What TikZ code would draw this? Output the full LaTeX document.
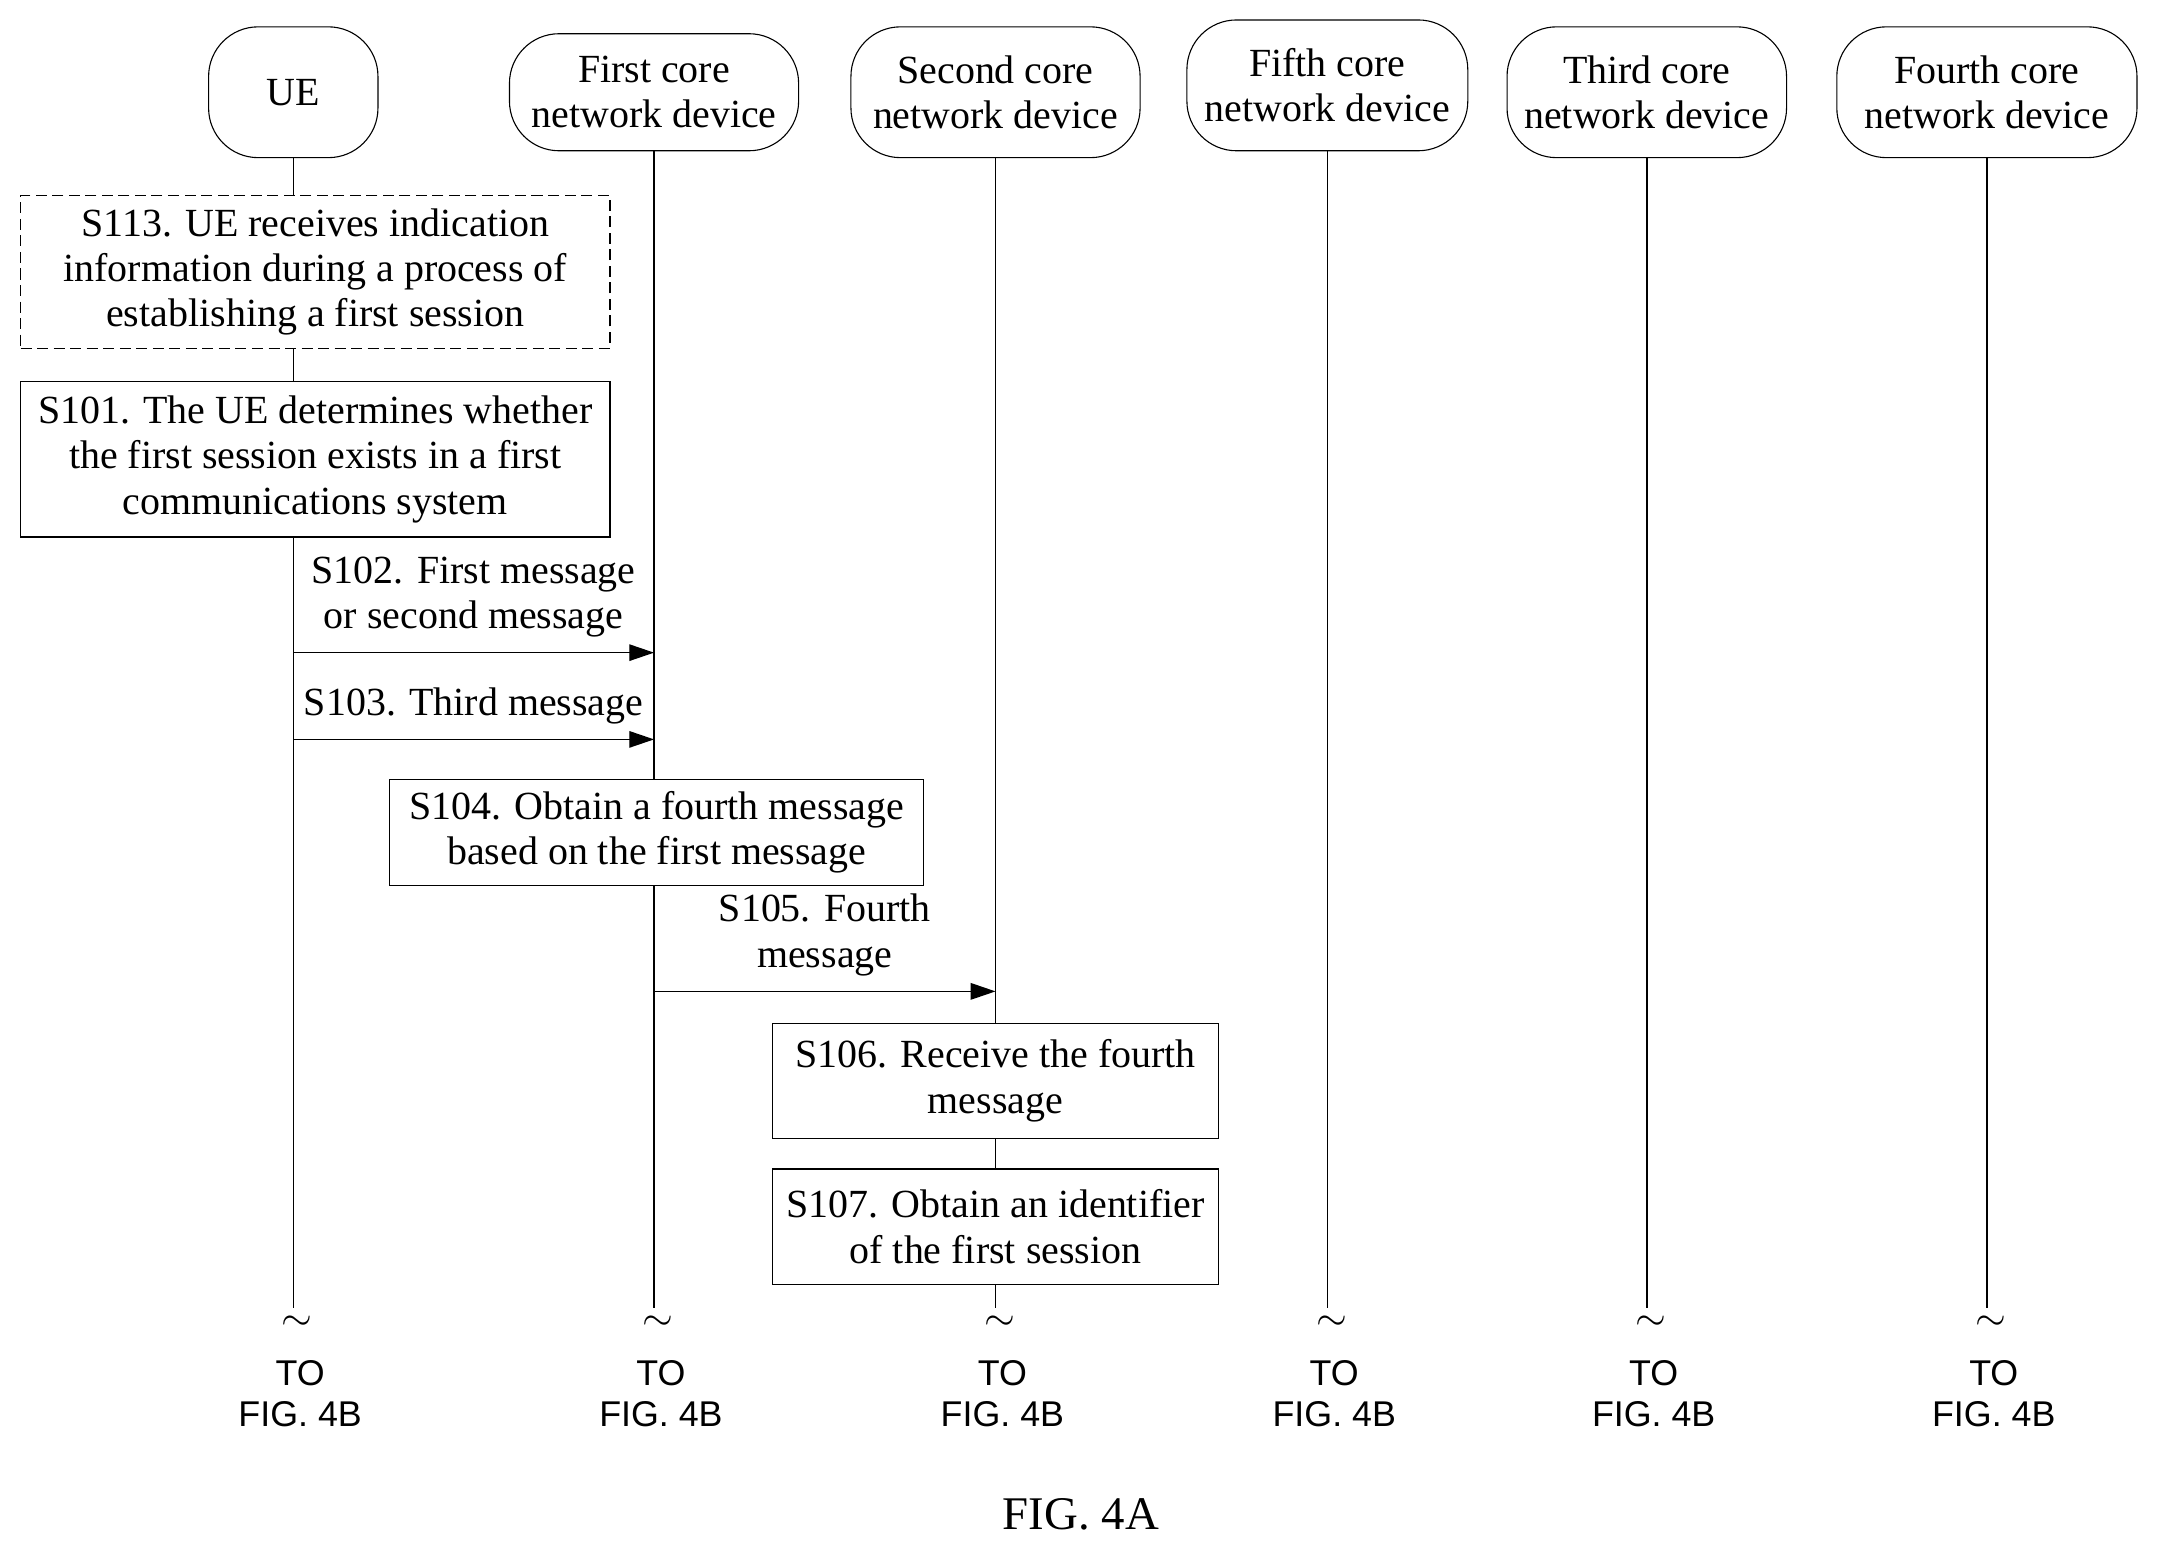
\documentclass[tikz,border=0pt]{standalone}
\usepackage{fontspec}
\setmainfont{Liberation Serif}
\newfontfamily\arialf{Liberation Sans}
\usetikzlibrary{arrows.meta}
\begin{document}
\begin{tikzpicture}[x=0.5pt,y=-0.5pt,
  every node/.style={font=\fontsize{14.5}{16.5}\selectfont},
  hd/.style={draw,rounded corners=18pt,align=center,inner sep=0pt},
  bx/.style={draw,fill=white,align=center,inner sep=0pt},
  ll/.style={line width=0.5pt},
  msg/.style={line width=0.5pt,-{Triangle[length=9pt,width=6pt]}},
  to/.style={font=\arialf\fontsize{13}{15}\selectfont,align=center}]
\useasboundingbox (0,0) rectangle (1568,1128);
\node[hd,minimum width=123pt*0.5,minimum height=95*0.5pt] (ue) at (213,67) {UE};
\node[hd,minimum width=210*0.5pt,minimum height=85*0.5pt] (c1) at (475,67) {First core\\network device};
\node[hd,minimum width=210*0.5pt,minimum height=95*0.5pt] (c2) at (723,67) {Second core\\network device};
\node[hd,minimum width=204*0.5pt,minimum height=95*0.5pt] (c5) at (964,62) {Fifth core\\network device};
\node[hd,minimum width=203*0.5pt,minimum height=95*0.5pt] (c3) at (1196,67) {Third core\\network device};
\node[hd,minimum width=218*0.5pt,minimum height=95*0.5pt] (c4) at (1443,67) {Fourth core\\network device};
\foreach \n/\x in {ue/213,c1/475,c2/723,c5/964,c3/1196,c4/1443}{
  \coordinate (e\n) at (\x,950);
  \draw[ll] (\n.south) -- (e\n);
  \node (t\n) at (\x+3,961) {$\sim$};
  \node[to] (f\n) at (\x+5,1012) {TO\\FIG. 4B};
}
\node[bx,dashed,dash pattern=on 4pt off 2pt,minimum width=428*0.5pt,minimum height=111*0.5pt] (s113) at (229,197.5) {S113. UE receives indication\\information during a process of\\establishing a first session};
\node[bx,minimum width=428*0.5pt,minimum height=113*0.5pt] (s101) at (229,333.5) {S101. The UE determines whether\\the first session exists in a first\\communications system};
\coordinate (a1) at (213,474); \coordinate (b1) at (475,474);
\draw[msg] (a1) -- (b1) node[midway,above=2pt,align=center] (l102) {S102. First message\\or second message};
\coordinate (a2) at (213,537); \coordinate (b2) at (475,537);
\draw[msg] (a2) -- (b2) node[midway,above=2pt] (l103) {S103. Third message};
\node[bx,minimum width=388*0.5pt,minimum height=77*0.5pt] (s104) at (477,604.5) {S104. Obtain a fourth message\\based on the first message};
\coordinate (a3) at (475,720); \coordinate (b3) at (723,720);
\draw[msg] (a3) -- (b3) node[midway,above=2pt,align=center] (l105) {S105. Fourth\\message};
\node[bx,minimum width=324*0.5pt,minimum height=84*0.5pt] (s106) at (723,785) {S106. Receive the fourth\\message};
\node[bx,minimum width=324*0.5pt,minimum height=84*0.5pt] (s107) at (723,891) {S107. Obtain an identifier\\of the first session};
\node[font=\fontsize{17}{19}\selectfont] (cap) at (785,1100) {FIG. 4A};
\end{tikzpicture}
\end{document}
